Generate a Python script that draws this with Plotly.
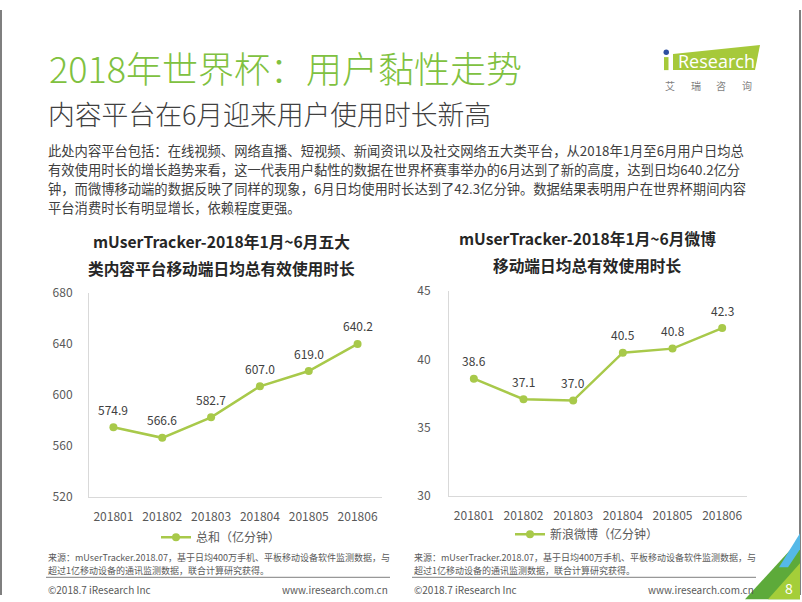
import plotly.graph_objects as go

W, H = 802, 602

# ---------------- data ----------------
months = ["201801", "201802", "201803", "201804", "201805", "201806"]
total_minutes = [574.9, 566.6, 582.7, 607.0, 619.0, 640.2]      # 总和（亿分钟）
weibo_minutes = [38.6, 37.1, 37.0, 40.5, 40.8, 42.3]            # 新浪微博（亿分钟）
left_ticks = [520, 560, 600, 640, 680]
right_ticks = [30, 35, 40, 45]
left_series_name = "总和（亿分钟）"
right_series_name = "新浪微博（亿分钟）"

title_main = "2018年世界杯：用户黏性走势"
title_sub = "内容平台在6月迎来用户使用时长新高"
paragraph_lines = [
    "此处内容平台包括：在线视频、网络直播、短视频、新闻资讯以及社交网络五大类平台，从2018年1月至6月用户日均总",
    "有效使用时长的增长趋势来看，这一代表用户黏性的数据在世界杯赛事举办的6月达到了新的高度，达到日均640.2亿分",
    "钟，而微博移动端的数据反映了同样的现象，6月日均使用时长达到了42.3亿分钟。数据结果表明用户在世界杯期间内容",
    "平台消费时长有明显增长，依赖程度更强。",
]
left_chart_title = ["mUserTracker-2018年1月~6月五大", "类内容平台移动端日均总有效使用时长"]
right_chart_title = ["mUserTracker-2018年1月~6月微博", "移动端日均总有效使用时长"]
source_lines = ["来源：mUserTracker.2018.07，基于日均400万手机、平板移动设备软件监测数据，与",
                "超过1亿移动设备的通讯监测数据，联合计算研究获得。"]
copyright_text = "©2018.7 iResearch Inc"
website_text = "www.iresearch.com.cn"
logo_chars = ["艾", "瑞", "咨", "询"]
page_number = "8"

# ---------------- styles ----------------
FONT = "Noto Sans CJK SC, Noto Sans, sans-serif"
LINE_COLOR = "#A8C94A"
GREEN_TITLE = "#80C140"
DARK_TEXT = "#404040"
TICK_COLOR = "#595959"
AXIS_COLOR = "#D9D9D9"

# vertical calibration of the captured page (measured with probe lines)
V_OFF, V_SCALE = 8.9, 0.9714


def px(x):
    return x / W


def py(y):
    yf = (y - V_OFF) / V_SCALE
    return 1 - yf / H


fig = go.Figure()

fig.add_trace(go.Scatter(
    x=months, y=total_minutes, mode="lines+markers", name=left_series_name,
    line=dict(color=LINE_COLOR, width=2.5), marker=dict(color=LINE_COLOR, size=8),
    xaxis="x", yaxis="y", legend="legend", hoverinfo="x+y",
))
fig.add_trace(go.Scatter(
    x=months, y=weibo_minutes, mode="lines+markers", name=right_series_name,
    line=dict(color=LINE_COLOR, width=2.5), marker=dict(color=LINE_COLOR, size=8),
    xaxis="x2", yaxis="y2", legend="legend2", hoverinfo="x+y",
))

annotations = []
# data labels (category index positions on the category axes)
for i, v in enumerate(total_minutes):
    annotations.append(dict(x=i, y=v, xref="x", yref="y", text=f"{v:.1f}", showarrow=False,
                            yshift=18, font=dict(size=12, color=DARK_TEXT, family=FONT)))
for i, v in enumerate(weibo_minutes):
    annotations.append(dict(x=i, y=v, xref="x2", yref="y2", text=f"{v:.1f}", showarrow=False,
                            yshift=18, font=dict(size=12, color=DARK_TEXT, family=FONT)))

# headings
annotations.append(dict(x=px(47), y=py(66), xref="paper", yref="paper", text=title_main,
                        showarrow=False, xanchor="left", yanchor="middle",
                        font=dict(size=36, color=GREEN_TITLE, family=FONT, weight=300)))
annotations.append(dict(x=px(46), y=py(112), xref="paper", yref="paper", text=title_sub,
                        showarrow=False, xanchor="left", yanchor="middle",
                        font=dict(size=26.8, color=DARK_TEXT, family=FONT, weight=300)))
for i, line in enumerate(paragraph_lines):
    annotations.append(dict(x=px(46), y=py(149 + 19 * i), xref="paper", yref="paper", text=line,
                            showarrow=False, xanchor="left", yanchor="middle",
                            font=dict(size=13.3, color=DARK_TEXT, family=FONT)))

# chart titles
for i, line in enumerate(left_chart_title):
    annotations.append(dict(x=px(221), y=py(240 + 27 * i), xref="paper", yref="paper",
                            text=f"<b>{line}</b>", showarrow=False, xanchor="center", yanchor="middle",
                            font=dict(size=15.7, color="#262626", family=FONT)))
for i, line in enumerate(right_chart_title):
    annotations.append(dict(x=px(587), y=py(237 + 27 * i), xref="paper", yref="paper",
                            text=f"<b>{line}</b>", showarrow=False, xanchor="center", yanchor="middle",
                            font=dict(size=15.7, color="#262626", family=FONT)))

# footers
for x0 in (46, 412):
    for i, line in enumerate(source_lines):
        annotations.append(dict(x=px(x0), y=py(556 + 13 * i), xref="paper", yref="paper", text=line,
                                showarrow=False, xanchor="left", yanchor="middle",
                                font=dict(size=9, color="#595959", family=FONT)))
    annotations.append(dict(x=px(x0), y=py(588), xref="paper", yref="paper", text=copyright_text,
                            showarrow=False, xanchor="left", yanchor="middle",
                            font=dict(size=10, color="#595959", family=FONT)))
    annotations.append(dict(x=px(x0 + 344), y=py(588), xref="paper", yref="paper", text=website_text,
                            showarrow=False, xanchor="right", yanchor="middle",
                            font=dict(size=10, color="#595959", family=FONT)))

# logo
annotations.append(dict(x=px(716), y=py(60), xref="paper", yref="paper", text="Research",
                        showarrow=False, xanchor="center", yanchor="middle",
                        font=dict(size=18, color="white", family="Open Sans, sans-serif")))
for i, ch in enumerate(logo_chars):
    annotations.append(dict(x=px(670 + 25.5 * i), y=py(84), xref="paper", yref="paper", text=ch,
                            showarrow=False, xanchor="center", yanchor="middle",
                            font=dict(size=10, color="#7F7F7F", family=FONT)))
annotations.append(dict(x=px(789), y=py(587), xref="paper", yref="paper", text=page_number,
                        showarrow=False, xanchor="center", yanchor="middle",
                        font=dict(size=14, color="white", family=FONT)))

shapes = [
    # slide frame (side edges)
    dict(type="line", xref="paper", yref="paper", x0=px(1), x1=px(1), y0=0, y1=1,
         line=dict(color="#7F7F7F", width=2), layer="above"),
    dict(type="line", xref="paper", yref="paper", x0=px(800), x1=px(800), y0=0, y1=1,
         line=dict(color="#7F7F7F", width=2), layer="above"),
    # footer separators
    dict(type="line", xref="paper", yref="paper", x0=px(46), x1=px(390), y0=py(576), y1=py(576),
         line=dict(color="#7F7F7F", width=1)),
    dict(type="line", xref="paper", yref="paper", x0=px(412), x1=px(756), y0=py(576), y1=py(576),
         line=dict(color="#7F7F7F", width=1)),
    # corner decoration
    dict(type="path", xref="paper", yref="paper",
         path=f"M {px(745)},{py(598)} L {px(800)},{py(598)} L {px(800)},{py(538)} Z",
         fillcolor="#5DAA3A", line=dict(width=0)),
    dict(type="path", xref="paper", yref="paper",
         path=f"M {px(779)},{py(566)} L {px(800)},{py(532)} L {px(800)},{py(548)} L {px(788)},{py(566)} Z",
         fillcolor="#55B9E8", line=dict(width=0)),
    dict(type="path", xref="paper", yref="paper",
         path=f"M {px(768)},{py(598)} L {px(800)},{py(598)} L {px(800)},{py(562)} Z",
         fillcolor="#A4CE39", line=dict(width=0)),
    # logo
    dict(type="path", xref="paper", yref="paper",
         path=f"M {px(673)},{py(53)} L {px(760)},{py(44)} L {px(755)},{py(69)} L {px(673)},{py(69)} Z",
         fillcolor="#A6C93A", line=dict(width=0)),
    dict(type="rect", xref="paper", yref="paper", x0=px(664), x1=px(668.5), y0=py(69), y1=py(56),
         fillcolor="#A6C93A", line=dict(width=0)),
    dict(type="circle", xref="paper", yref="paper", x0=px(663.5), x1=px(669), y0=py(54), y1=py(48.5),
         fillcolor="#2E4FA0", line=dict(width=0)),
]

axis_common = dict(showline=True, linecolor=AXIS_COLOR, linewidth=1, showgrid=False, zeroline=False,
                   ticks="", tickfont=dict(size=12, color=TICK_COLOR, family=FONT), fixedrange=True)

fig.update_layout(
    width=W, height=H,
    margin=dict(l=0, r=0, t=0, b=0),
    paper_bgcolor="white", plot_bgcolor="white",
    font=dict(family=FONT, color=DARK_TEXT),
    xaxis=dict(domain=[px(89), px(382)], anchor="y", type="category",
               range=[-0.5, 5.5], ticklabelstandoff=8, **axis_common),
    yaxis=dict(domain=[py(496), py(292)], anchor="x", range=[520, 680],
               tickvals=left_ticks, ticklabelstandoff=13, **axis_common),
    xaxis2=dict(domain=[px(449), px(747)], anchor="y2", type="category",
                range=[-0.5, 5.5], ticklabelstandoff=8, **axis_common),
    yaxis2=dict(domain=[py(495), py(290)], anchor="x2", range=[30, 45],
                tickvals=right_ticks, ticklabelstandoff=15, **axis_common),
    legend=dict(x=px(221), y=py(536), xanchor="center", yanchor="middle", orientation="h",
                font=dict(size=12, color=TICK_COLOR, family=FONT), bgcolor="rgba(0,0,0,0)"),
    legend2=dict(x=px(587), y=py(533), xanchor="center", yanchor="middle", orientation="h",
                 font=dict(size=12, color=TICK_COLOR, family=FONT), bgcolor="rgba(0,0,0,0)"),
    showlegend=True,
    annotations=annotations,
    shapes=shapes,
)

fig.write_html(
    "out.html",
    config={"displayModeBar": False},
    post_script=("document.documentElement.style.margin='0';document.body.style.margin='0';"
                 "document.body.style.padding='0';document.body.style.overflow='hidden';"
                 "document.documentElement.style.overflow='hidden';"),
)
